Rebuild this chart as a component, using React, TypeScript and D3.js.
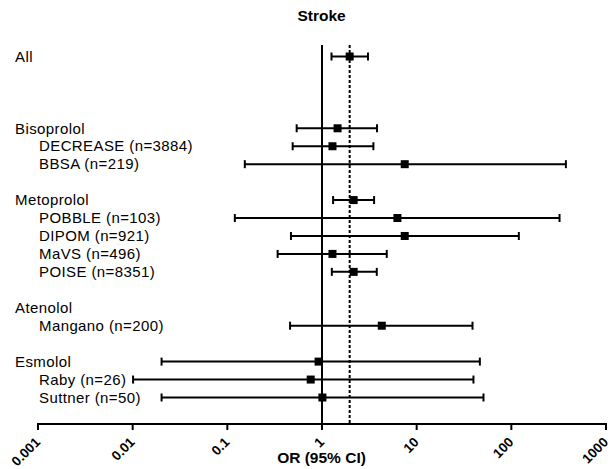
import React from "react";
import * as d3 from "d3";

const labels = [
  "All",
  "Bisoprolol",
  "DECREASE (n=3884)",
  "BBSA (n=219)",
  "Metoprolol",
  "POBBLE (n=103)",
  "DIPOM (n=921)",
  "MaVS (n=496)",
  "POISE (n=8351)",
  "Atenolol",
  "Mangano (n=200)",
  "Esmolol",
  "Raby (n=26)",
  "Suttner (n=50)",
];
const rowIndex = [0, 4, 5, 6, 8, 9, 10, 11, 12, 14, 15, 17, 18, 19];
const isStudy = [false, false, true, true, false, true, true, true, true, false, true, false, true, true];
const orValues: (number | null)[] = [1.96, 1.46, 1.29, 7.48, 2.16, 6.26, 7.48, 1.29, 2.16, null, 4.28, 0.92, 0.76, 1.01];
const ciLow: (number | null)[] = [1.26, 0.54, 0.49, 0.153, 1.31, 0.12, 0.47, 0.34, 1.27, null, 0.46, 0.0202, 0.0101, 0.0202];
const ciHigh: (number | null)[] = [3.06, 3.81, 3.49, 377, 3.55, 323, 120, 4.83, 3.79, null, 38.9, 46.5, 39.8, 50.8];
const tickValues = [0.001, 0.01, 0.1, 1, 10, 100, 1000];
const tickLabels = ["0.001", "0.01", "0.1", "1", "10", "100", "1000"];
const pooledOR = 1.96;
const title = "Stroke";
const xTitle = "OR (95% CI)";

export default function App() {
  const W = 612;
  const H = 469;
  const x = d3.scaleLog().domain([0.001, 1000]).range([38, 606]);
  const y = d3.scaleLinear().domain([0, 19]).range([56.5, 397.5]);
  const axisY = 424;
  const lineTop = 45;
  const font = "Arial, 'Liberation Sans', sans-serif";
  const sq = 8;
  const cap = 4;

  return (
    <svg
      width={W}
      height={H}
      style={{ position: "absolute", left: 0, top: 0, display: "block", background: "#fff" }}
      fontFamily={font}
    >
      <text x={321.5} y={21} textAnchor="middle" fontWeight="bold" fontSize={15.5}>
        {title}
      </text>

      {labels.map((l, i) => (
        <text
          key={l}
          x={isStudy[i] ? 39 : 15}
          y={y(rowIndex[i])}
          dy="0.35em"
          fontSize={15}
          letterSpacing={0.4}
          fill="#000"
        >
          {l}
        </text>
      ))}

      <line x1={x(1)} x2={x(1)} y1={lineTop} y2={axisY} stroke="#000" strokeWidth={2} />
      <line
        x1={x(pooledOR)}
        x2={x(pooledOR)}
        y1={lineTop}
        y2={axisY}
        stroke="#000"
        strokeWidth={2}
        strokeDasharray="3,2"
      />

      {labels.map((l, i) => {
        const v = orValues[i];
        const lo = ciLow[i];
        const hi = ciHigh[i];
        if (v == null || lo == null || hi == null) return null;
        const yy = y(rowIndex[i]);
        return (
          <g key={"m" + l}>
            <line x1={x(lo)} x2={x(hi)} y1={yy} y2={yy} stroke="#000" strokeWidth={2} />
            <line x1={x(lo)} x2={x(lo)} y1={yy - cap} y2={yy + cap} stroke="#000" strokeWidth={2} />
            <line x1={x(hi)} x2={x(hi)} y1={yy - cap} y2={yy + cap} stroke="#000" strokeWidth={2} />
            <rect x={x(v) - sq / 2} y={yy - sq / 2} width={sq} height={sq} fill="#000" />
          </g>
        );
      })}

      <line x1={x(0.001) - 1} x2={x(1000) + 1} y1={axisY} y2={axisY} stroke="#000" strokeWidth={2} />
      {tickValues.map((t, i) => (
        <g key={"t" + t}>
          <line x1={x(t)} x2={x(t)} y1={axisY} y2={axisY + 6} stroke="#000" strokeWidth={2} />
          <text
            transform={`translate(${x(t) + 3},${axisY + 19}) rotate(-45)`}
            textAnchor="end"
            fontSize={13.5}
            fontWeight="bold"
          >
            {tickLabels[i]}
          </text>
        </g>
      ))}

      <text x={321.5} y={463} textAnchor="middle" fontWeight="bold" fontSize={15.5}>
        {xTitle}
      </text>
    </svg>
  );
}
